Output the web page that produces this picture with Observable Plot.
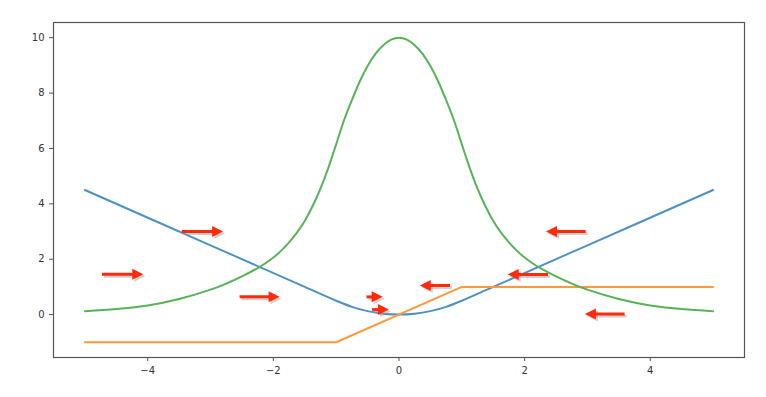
<!DOCTYPE html>
<html><head><meta charset="utf-8">
<script src="https://cdn.jsdelivr.net/npm/d3@7"></script>
<script src="https://cdn.jsdelivr.net/npm/@observablehq/plot@0.6"></script>
<style>
body{margin:0;background:#fff}
g[aria-label="shadow"]{filter:blur(1.2px)}
</style>
</head><body><div id="chart"></div>
<script>
// Blue series
const blueX = [-5, -3, -1.5, -1, -0.75, -0.5, -0.25, 0, 0.25, 0.5, 0.75, 1, 1.5, 3, 5];
const blueY = [4.5, 2.5, 1.0, 0.5, 0.28, 0.125, 0.03, 0, 0.03, 0.125, 0.28, 0.5, 1.0, 2.5, 4.5];
// Orange series
const orangeX = [-5, -1, 1, 5];
const orangeY = [-1, -1, 1, 1];
// Green series
const greenX = [-5, -4.5, -4, -3.5, -3, -2.75, -2.5, -2.25, -2.125, -2, -1.875, -1.75, -1.625, -1.5, -1.375, -1.25, -1.125, -1, -0.875, -0.75, -0.625, -0.5, -0.375, -0.25, -0.125, 0,
                0.125, 0.25, 0.375, 0.5, 0.625, 0.75, 0.875, 1, 1.125, 1.25, 1.375, 1.5, 1.625, 1.75, 1.875, 2, 2.125, 2.25, 2.5, 2.75, 3, 3.5, 4, 4.5, 5];
const greenY = [0.12, 0.2, 0.33, 0.56, 0.9, 1.12, 1.38, 1.68, 1.855, 2.06, 2.31, 2.61, 2.96, 3.38, 3.92, 4.55, 5.3, 6.15, 7.02, 7.75, 8.42, 8.98, 9.42, 9.73, 9.93, 10,
                9.93, 9.73, 9.42, 8.98, 8.42, 7.75, 7.02, 6.15, 5.3, 4.55, 3.92, 3.38, 2.96, 2.61, 2.31, 2.06, 1.855, 1.68, 1.38, 1.12, 0.9, 0.56, 0.33, 0.2, 0.12];
// Arrows: tail x, tip x, y
const arrowTail = [-3.45, -4.72, -2.53, -0.51, -0.42, 2.98, 2.38, 0.82, 3.6];
const arrowTip  = [-2.8, -4.07, -1.9, -0.26, -0.16, 2.34, 1.73, 0.33, 2.96];
const arrowY    = [3.0, 1.46, 0.64, 0.64, 0.18, 3.0, 1.45, 1.05, 0.02];
const xTicks = [-4, -2, 0, 2, 4];
const yTicks = [0, 2, 4, 6, 8, 10];

const mk = (xs, ys) => xs.map((x, i) => ({x, y: ys[i]}));
const blue = mk(blueX, blueY), orange = mk(orangeX, orangeY), green = mk(greenX, greenY);
const arrows = arrowTail.map((t, i) => ({x1: t, x2: arrowTip[i], y: arrowY[i], dir: Math.sign(arrowTip[i] - t)}));
const right = arrows.filter(d => d.dir > 0), left = arrows.filter(d => d.dir < 0);

const headR = {draw(c){c.moveTo(0,0); c.lineTo(-11,-5.5); c.lineTo(-11,5.5); c.closePath();}};
const headL = {draw(c){c.moveTo(0,0); c.lineTo(11,-5.5); c.lineTo(11,5.5); c.closePath();}};

function arrowMarks(color, extra) {
  return [
    Plot.ruleY(arrows, {y: "y", x1: "x1", x2: d => d.x2 - d.dir * 0.1, stroke: color, strokeWidth: 3, strokeLinecap: "butt", ...extra}),
    Plot.dot(right, {x: "x2", y: "y", symbol: headR, fill: color, stroke: "none", ...extra}),
    Plot.dot(left, {x: "x2", y: "y", symbol: headL, fill: color, stroke: "none", ...extra})
  ];
}

const chart = Plot.plot({
  width: 766, height: 397,
  marginLeft: 53, marginRight: 22, marginTop: 22, marginBottom: 40,
  style: {fontFamily: "DejaVu Sans", fontSize: "10px", color: "#333", background: "#fff"},
  x: {domain: [-5.5, 5.5]},
  y: {domain: [-1.55, 10.55]},
  marks: [
    Plot.line(blue, {x: "x", y: "y", stroke: "#4c92c3", strokeWidth: 2, curve: "catmull-rom"}),
    Plot.line(orange, {x: "x", y: "y", stroke: "#ff993e", strokeWidth: 2}),
    Plot.line(green, {x: "x", y: "y", stroke: "#56b356", strokeWidth: 2, curve: "natural"}),
    ...arrowMarks("#999", {dx: 2, dy: 2, opacity: 0.45, ariaLabel: "shadow"}),
    ...arrowMarks("#ff2a0a", {}),
    Plot.frame({stroke: "#555", strokeWidth: 1.2}),
    Plot.axisX({ticks: xTicks, tickFormat: d => d < 0 ? "\u2212" + Math.abs(d) : String(d), tickSize: 4, tickPadding: 5, label: null, stroke: "#555", fill: "#333"}),
    Plot.axisY({ticks: yTicks, tickSize: 4, tickPadding: 5, label: null, stroke: "#555", fill: "#333"})
  ]
});
document.getElementById("chart").appendChild(chart);
</script>
</body></html>
